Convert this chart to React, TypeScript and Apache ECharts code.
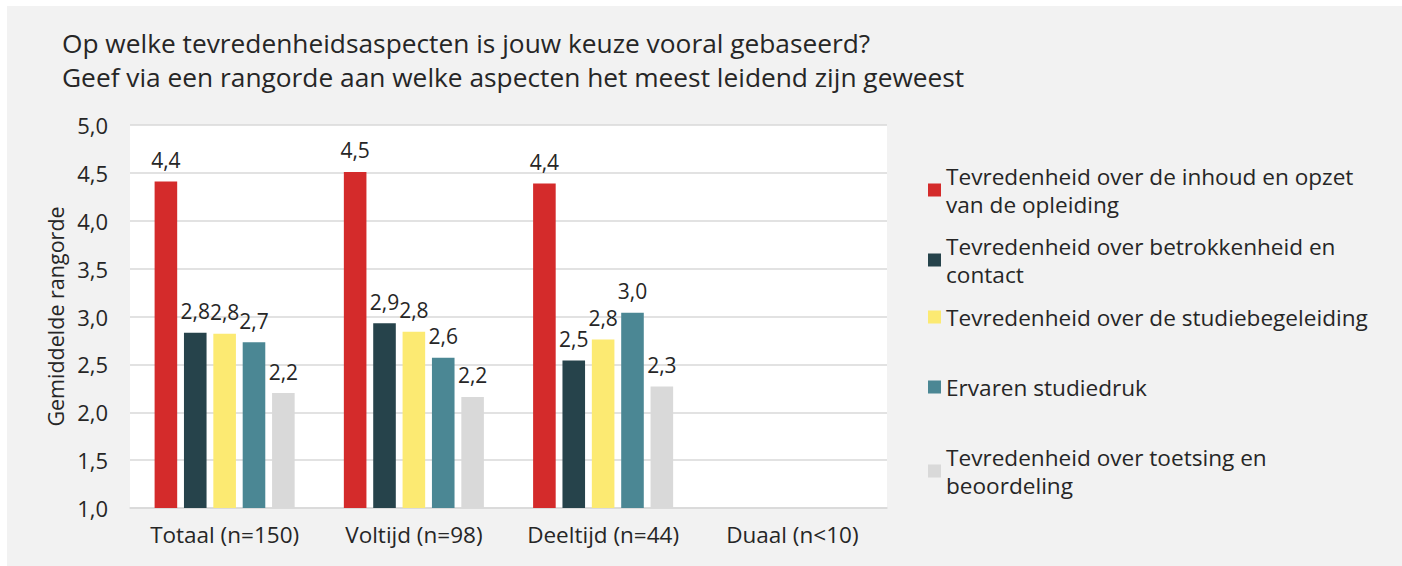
import React, { useEffect, useRef } from "react";
import * as echarts from "echarts";

const categories = ["Totaal (n=150)", "Voltijd (n=98)", "Deeltijd (n=44)", "Duaal (n<10)"];
const seriesNames = [
  "Tevredenheid over de inhoud en opzet van de opleiding",
  "Tevredenheid over betrokkenheid en contact",
  "Tevredenheid over de studiebegeleiding",
  "Ervaren studiedruk",
  "Tevredenheid over toetsing en beoordeling",
];
const legendLabels = [
  "Tevredenheid over de inhoud en opzet\nvan de opleiding",
  "Tevredenheid over betrokkenheid en\ncontact",
  "Tevredenheid over de studiebegeleiding",
  "Ervaren studiedruk",
  "Tevredenheid over toetsing en\nbeoordeling",
];
const inhoud = [4.41, 4.51, 4.39, null];
const betrokkenheid = [2.83, 2.93, 2.54, null];
const begeleiding = [2.82, 2.84, 2.76, null];
const studiedruk = [2.73, 2.57, 3.04, null];
const toetsing = [2.2, 2.16, 2.27, null];
const seriesValues = [inhoud, betrokkenheid, begeleiding, studiedruk, toetsing];
const colors = ["#d42b2b", "#26434b", "#fcea72", "#4b8794", "#d9d9d9"];
const yTicks = { min: 1, max: 5, interval: 0.5 };

const FONT = "Open Sans";
const TEXT = "#262626";

export default function App() {
  const ref = useRef<HTMLDivElement>(null);
  useEffect(() => {
    if (!ref.current) return;
    const chart = echarts.init(ref.current, undefined, { renderer: "svg" });
    const fmt = (v: number) => v.toFixed(1).replace(".", ",");
    const legendTops = [142, 212, 297, 367, 423];
    chart.setOption({
      animation: false,
      backgroundColor: "#f2f2f2",
      textStyle: { fontFamily: FONT, color: TEXT },
      title: {
        text: "Op welke tevredenheidsaspecten is jouw keuze vooral gebaseerd?\nGeef via een rangorde aan welke aspecten het meest leidend zijn geweest",
        left: 55,
        top: 20,
        padding: 0,
        textStyle: { fontFamily: FONT, fontSize: 26.3, fontWeight: "normal", color: TEXT, lineHeight: 34 },
      },
      legend: seriesNames.map((n, i) => ({
        data: [n],
        left: 921,
        top: legendTops[i],
        padding: 0,
        itemWidth: 13,
        itemHeight: 13,
        icon: "rect",
        formatter: () => legendLabels[i],
        textStyle: {
          fontFamily: FONT,
          fontSize: 22.6,
          color: TEXT,
          lineHeight: 28,
          padding: legendLabels[i].includes("\n") ? [28, 0, 0, 0] : 0,
        },
      })),
      grid: {
        left: 123,
        right: 515,
        top: 119,
        bottom: 58,
        show: true,
        backgroundColor: "#ffffff",
        borderWidth: 0,
      },
      xAxis: {
        type: "category",
        data: categories,
        axisLine: { lineStyle: { color: "#d9d9d9", width: 1.5 } },
        axisTick: { show: false },
        axisLabel: { fontFamily: FONT, fontSize: 22.5, color: TEXT, margin: 15, interval: 0, hideOverlap: false },
      },
      yAxis: {
        type: "value",
        min: yTicks.min,
        max: yTicks.max,
        interval: yTicks.interval,
        name: "Gemiddelde rangorde",
        nameLocation: "middle",
        nameRotate: 90,
        nameGap: 63,
        nameTextStyle: { fontFamily: FONT, fontSize: 21.5, color: TEXT },
        axisLine: { show: false },
        axisTick: { show: false },
        splitLine: { lineStyle: { color: "#d9d9d9", width: 1.5 } },
        axisLabel: { fontFamily: FONT, fontSize: 22, color: TEXT, margin: 22, formatter: (v: number) => fmt(v) },
      },
      series: seriesNames.map((n, i) => ({
        name: n,
        type: "bar",
        data: seriesValues[i],
        barCategoryGap: "26%",
        barGap: "30%",
        itemStyle: { color: colors[i] },
        label: {
          show: true,
          position: "top",
          distance: 11,
          fontFamily: FONT,
          fontSize: 21,
          color: TEXT,
          formatter: (p: any) => fmt(p.value),
        },
      })),
    });
    return () => chart.dispose();
  }, []);
  return (
    <div
      ref={ref}
      style={{ position: "absolute", left: 7, top: 6, width: 1395, height: 560 }}
    />
  );
}
